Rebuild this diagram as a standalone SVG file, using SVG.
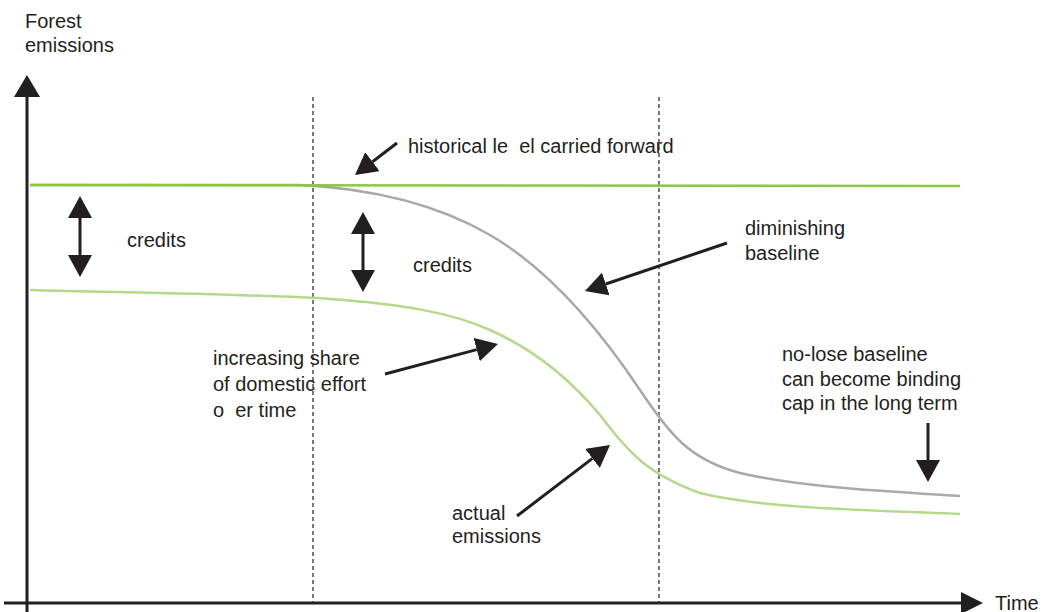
<svg xmlns="http://www.w3.org/2000/svg" width="1046" height="612" viewBox="0 0 1046 612">
<style>
text{font-family:"Liberation Sans",Arial,sans-serif;font-size:20px;fill:#231f20;white-space:pre}
.ax{stroke:#231f20;stroke-width:3;fill:none}
.ar{stroke:#231f20;stroke-width:3;fill:none;marker-end:url(#ah)}
.dbl{stroke:#231f20;stroke-width:3;fill:none;marker-start:url(#ah);marker-end:url(#ah)}
.dash{stroke:#231f20;stroke-width:1.2;stroke-dasharray:4 3;fill:none}
</style>
<defs>
<marker id="ah" viewBox="0 0 22 24" refX="0" refY="12" markerWidth="22" markerHeight="24" markerUnits="userSpaceOnUse" orient="auto-start-reverse">
<path d="M0,0 L22,12 L0,24 z" fill="#231f20"/>
</marker>
</defs>
<rect width="1046" height="612" fill="#ffffff"/>
<g id="axes">
<line class="ax" x1="27" y1="612" x2="27" y2="97"/>
<polygon points="27,75 14,97 40,97" fill="#231f20"/>
<line class="ax" x1="4" y1="603" x2="961" y2="603"/>
<polygon points="983,603 961,592 961,614" fill="#231f20"/>
<text x="25" y="28">Forest</text>
<text x="25" y="52">emissions</text>
<text x="995" y="610">Time</text>
</g>
<g id="gridlines">
<line class="dash" x1="313" y1="97" x2="313" y2="603"/>
<line class="dash" x1="659" y1="97" x2="659" y2="603"/>
</g>
<g id="curves">
<path id="diminishing-baseline" d="M30,185 L300,185 C360,188 430,200 490,235 C550,270 600,330 640,390 C670,435 690,460 740,473 C800,487 880,491 960,496" fill="none" stroke="#a7a9ac" stroke-width="2.5"/>
<path id="historical-level" d="M30,185 L960,186" fill="none" stroke="#8dc63f" stroke-width="2.5"/>
<path id="actual-emissions" d="M30,290 C150,293 280,295 330,299 C400,304 450,312 490,330 C540,352 575,385 600,415 C630,455 650,475 700,493 C760,508 860,510 960,514" fill="none" stroke="#b5d98a" stroke-width="2.5"/>
</g>
<g id="connectors">
<line class="ar" x1="397" y1="143" x2="372.5" y2="161.7"/>
<line class="dbl" x1="80" y1="218" x2="80" y2="255"/>
<line class="dbl" x1="363" y1="234" x2="363" y2="270"/>
<line class="ar" x1="727" y1="243" x2="605.8" y2="284"/>
<line class="ar" x1="385" y1="374" x2="476.7" y2="349.6"/>
<line class="ar" x1="517" y1="516" x2="592.5" y2="458.4"/>
<line class="ar" x1="928" y1="423" x2="928" y2="460"/>
</g>
<g id="label-historical"><text x="408" y="153">historical le  el carried forward</text></g>
<g id="label-credits-1"><text x="127" y="247">credits</text></g>
<g id="label-credits-2"><text x="413" y="272">credits</text></g>
<g id="label-diminishing"><text x="745" y="235">diminishing</text><text x="745" y="260">baseline</text></g>
<g id="label-increasing"><text x="213" y="365">increasing share</text><text x="213" y="391">of domestic effort</text><text x="213" y="417">o  er time</text></g>
<g id="label-nolose"><text x="782" y="361">no-lose baseline</text><text x="782" y="386">can become binding</text><text x="782" y="410">cap in the long term</text></g>
<g id="label-actual"><text x="452" y="520">actual</text><text x="452" y="543">emissions</text></g>
</svg>
